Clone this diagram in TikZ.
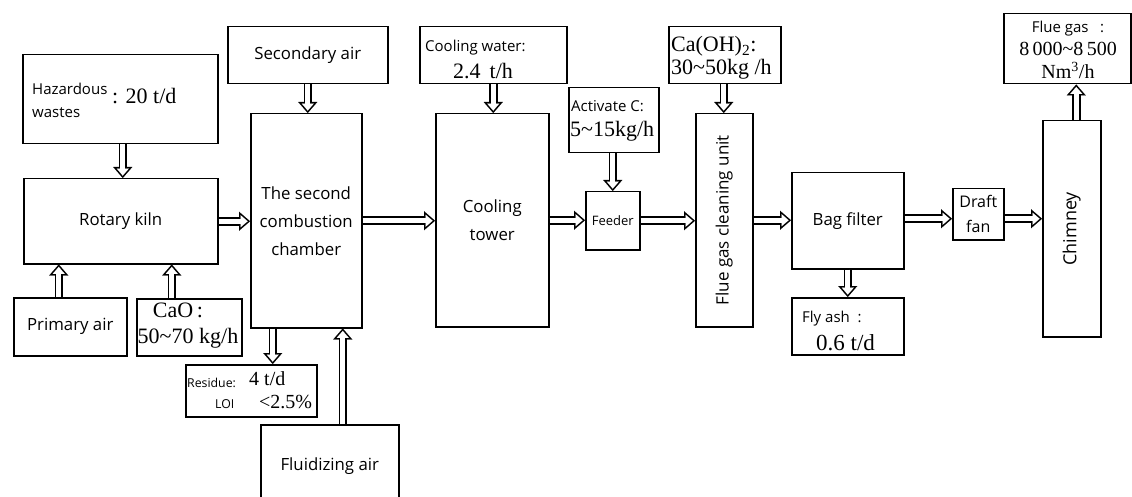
\documentclass[tikz,border=0pt]{standalone}
\usepackage{fontspec}
\setmainfont{Liberation Serif}
\newfontfamily\labf{Open Sans}
\usetikzlibrary{arrows.meta}
\begin{document}
\begin{tikzpicture}[x=1pt,y=-1pt,
  box/.style={draw, line width=1.5pt, inner sep=0pt, anchor=north west, align=center},
  lab/.style={font=\labf\fontsize{16.8}{28}\selectfont},
  sml/.style={font=\labf\fontsize{15}{18}\selectfont},
  tiny/.style={font=\labf\fontsize{12.3}{14}\selectfont},
  num/.style={font=\fontsize{22}{24}\selectfont},
  txt/.style={inner sep=0pt},
  flow/.style={white, line width=5pt, shorten >=2.45pt,
    -{Triangle[length=6.95pt, width=12pt, line width=0.01pt]},
    preaction={draw=black, line width=8.5pt, shorten >=0pt,
      -{Triangle[length=11pt, width=19pt, line width=0.01pt]}}}]
\useasboundingbox (0,0) rectangle (1132,497);
\clip (0,0) rectangle (1132,497);
% boxes
\node[box, minimum width=195pt, minimum height=89pt] (hz) at (22,54) {};
\node[box, lab, minimum width=194pt, minimum height=85pt] (kiln) at (23,178) {Rotary kiln};
\node[box, lab, minimum width=113pt, minimum height=58pt] (pa) at (13,297) {Primary air};
\node[box, minimum width=105pt, minimum height=57pt] (cao) at (136,298) {};
\node[box, lab, minimum width=160pt, minimum height=57pt] (sec) at (227,26) {Secondary air};
\node[box, lab, minimum width=111pt, minimum height=214pt] (ch) at (250,113) {The second\\combustion\\chamber};
\node[box, minimum width=131pt, minimum height=52pt] (res) at (185,364) {};
\node[box, lab, minimum width=138pt, minimum height=82pt] (fl) at (260,424) {Fluidizing air};
\node[box, minimum width=147pt, minimum height=57pt] (cw) at (419,26) {};
\node[box, lab, minimum width=113pt, minimum height=213pt] (tw) at (435,113) {Cooling\\tower};
\node[box, minimum width=90pt, minimum height=65pt] (ac) at (568,87) {};
\node[box, font=\labf\fontsize{13}{16}\selectfont, minimum width=54pt, minimum height=58pt] (fd) at (585,191) {Feeder};
\node[box, minimum width=112pt, minimum height=57pt] (ca) at (668,26) {};
\node[box, minimum width=57pt, minimum height=213pt] (un) at (695,113) {};
\node[box, lab, minimum width=112pt, minimum height=96pt] (bag) at (791,172) {Bag filter};
\node[box, minimum width=112pt, minimum height=57pt] (fa) at (791,297) {};
\node[box, font=\labf\fontsize{16}{25}\selectfont, minimum width=51pt, minimum height=51pt] (fan) at (952,188) {Draft\\fan};
\node[box, minimum width=58pt, minimum height=216pt] (chim) at (1042,120) {};
\node[box, minimum width=127pt, minimum height=70pt] (fg) at (1003,13) {};
% texts
\node[txt, sml, anchor=base west] (hz1) at (32,95) {Hazardous};
\node[txt, sml, anchor=base west] (hz2) at (32,118) {wastes};
\node[txt, num, anchor=base west] (hz3) at (112,104) {: 20 t/d};
\node[txt, num, anchor=base] (cao1) at (178,317) {CaO\,:};
\node[txt, num, anchor=base] (cao2) at (188,343) {50\textasciitilde70 kg/h};
\node[txt, tiny, anchor=base west] (res1) at (187,387) {Residue:};
\node[txt, font=\fontsize{20}{24}\selectfont, anchor=base west] (res2) at (249,385) {4 t/d};
\node[txt, tiny, anchor=base west] (res3) at (215,408) {LOI};
\node[txt, font=\fontsize{20}{24}\selectfont, anchor=base west] (res4) at (259,408) {<2.5\%};
\node[txt, sml, anchor=base west] (cw1) at (425,52) {Cooling water:};
\node[txt, num, anchor=base] (cw2) at (483,79) {2.4\, t/h};
\node[txt, sml, anchor=base west] (ac1) at (571,112) {Activate C:};
\node[txt, num, anchor=base west] (ac2) at (570,137) {5\textasciitilde15kg/h};
\node[txt, num, anchor=base west] (ca1) at (671,52) {Ca(OH)\textsubscript{2}:};
\node[txt, num, anchor=base west] (ca2) at (671,75) {30\textasciitilde50kg /h};
\node[txt, font=\labf\fontsize{17}{20}\selectfont, rotate=90] (un1) at (un.center) {Flue gas cleaning unit};
\node[txt, font=\labf\fontsize{18}{20}\selectfont, rotate=90] (chim1) at (chim.center) {Chimney};
\node[txt, sml, anchor=base west] (fa1) at (802,322) {Fly ash\ \ :};
\node[txt, font=\fontsize{23}{24}\selectfont, anchor=base west] (fa2) at (816,350) {0.6 t/d};
\node[txt, sml, anchor=base] (fg1) at (1068,33) {Flue gas\ \ \ :};
\node[txt, font=\fontsize{20}{22}\selectfont, anchor=base] (fg2) at (1068,56) {8\,000\textasciitilde8\,500};
\node[txt, font=\fontsize{20}{22}\selectfont, anchor=base] (fg3) at (1068,79) {Nm\textsuperscript{3}/h};
% flows
\draw[flow] ([xshift=2.5pt]hz.south) -- ([xshift=2.5pt]hz.south |- kiln.north);
\draw[flow] ([xshift=-11.5pt]pa.north) -- ([xshift=-11.5pt]pa.north |- kiln.south);
\draw[flow] ([xshift=-17.5pt]cao.north) -- ([xshift=-17.5pt]cao.north |- kiln.south);
\draw[flow] (kiln.east) -- (kiln.east -| ch.west);
\draw[flow] (sec.south) -- (sec.south |- ch.north);
\draw[flow] ([xshift=-33.5pt]ch.south) -- ([xshift=-33.5pt]ch.south |- res.north);
\draw[flow] ([xshift=13pt]fl.north) -- ([xshift=13pt]fl.north |- ch.south);
\draw[flow] (ch.east) -- (ch.east -| tw.west);
\draw[flow] (cw.south) -- (cw.south |- tw.north);
\draw[flow] (tw.east) -- (tw.east -| fd.west);
\draw[flow] ([xshift=-1pt]ac.south) -- ([xshift=-1pt]ac.south |- fd.north);
\draw[flow] (fd.east) -- (fd.east -| un.west);
\draw[flow] ([xshift=-1pt]ca.south) -- ([xshift=-1pt]ca.south |- un.north);
\draw[flow] (un.east) -- (un.east -| bag.west);
\draw[flow] (bag.south) -- (bag.south |- fa.north);
\draw[flow] ([yshift=2pt]bag.east) -- ([yshift=2pt]bag.east -| fan.west);
\draw[flow] ([yshift=-4.5pt]fan.east) -- ([yshift=-4.5pt]fan.east -| chim.west);
\draw[flow] ([xshift=4.5pt]chim.north) -- ([xshift=4.5pt]chim.north |- fg.south);
\end{tikzpicture}
\end{document}
